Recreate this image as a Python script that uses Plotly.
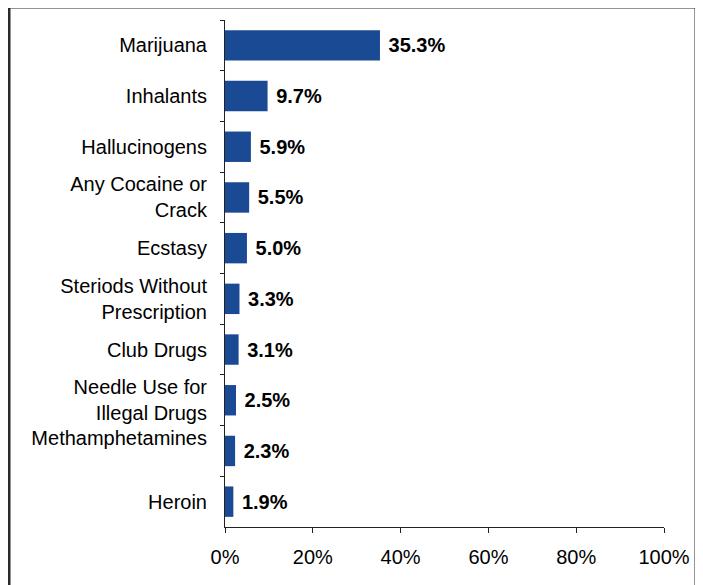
import plotly.graph_objects as go

categories = ["Marijuana", "Inhalants", "Hallucinogens", "Any Cocaine or<br>Crack", "Ecstasy",
              "Steriods Without<br>Prescription", "Club Drugs", "Needle Use for<br>Illegal Drugs",
              "Methamphetamines<br> ", "Heroin"]
values = [35.3, 9.7, 5.9, 5.5, 5.0, 3.3, 3.1, 2.5, 2.3, 1.9]
value_labels = ["35.3%", "9.7%", "5.9%", "5.5%", "5.0%", "3.3%", "3.1%", "2.5%", "2.3%", "1.9%"]
x_ticks = [0, 20, 40, 60, 80, 100]
x_tick_labels = ["0%", "20%", "40%", "60%", "80%", "100%"]

W, H = 703, 585
OFF = 8  # page body offset
L, R, T, B = 225 - OFF, 703 - 664 + OFF, 20 - OFF, 585 - 527 + OFF
pw, ph = W - L - R, H - T - B

fig = go.Figure(go.Bar(
    y=categories, x=values, orientation="h",
    marker=dict(color="#1B4A95", line=dict(width=0)),
    width=0.6,
    text=["\u00a0" + t for t in value_labels], textposition="outside",
    textfont=dict(family="Liberation Sans, Arial", size=20, color="black", weight="bold"),
    cliponaxis=False,
))

fig.update_layout(
    width=W, height=H,
    margin=dict(l=L, r=R, t=T, b=B, autoexpand=False),
    paper_bgcolor="white", plot_bgcolor="white",
    font=dict(family="Liberation Sans, Arial", size=20, color="black"),
    showlegend=False,
    xaxis=dict(range=[0, 100], tickvals=x_ticks, ticktext=x_tick_labels,
               showgrid=False, zeroline=False, showline=True, linecolor="#222", linewidth=1,
               ticks="outside", ticklen=5, tickcolor="#222", tickfont=dict(size=20),
               ticklabelstandoff=7),
    yaxis=dict(autorange="reversed", showgrid=False, showline=True, linecolor="#222", linewidth=1,
               ticks="outside", ticklen=4, tickcolor="#222", tickson="boundaries",
               tickfont=dict(size=20), ticklabelstandoff=13),
)

def px_x(p):
    return (p - OFF - L) / pw

def px_y(p):
    return (H - B - (p - OFF)) / ph

fig.add_shape(type="rect", xref="paper", yref="paper",
              x0=px_x(9), x1=px_x(696), y0=px_y(640), y1=px_y(7),
              line=dict(color="#2a2a2a", width=3), fillcolor="rgba(0,0,0,0)", layer="above")

fig.write_html("out.html")
